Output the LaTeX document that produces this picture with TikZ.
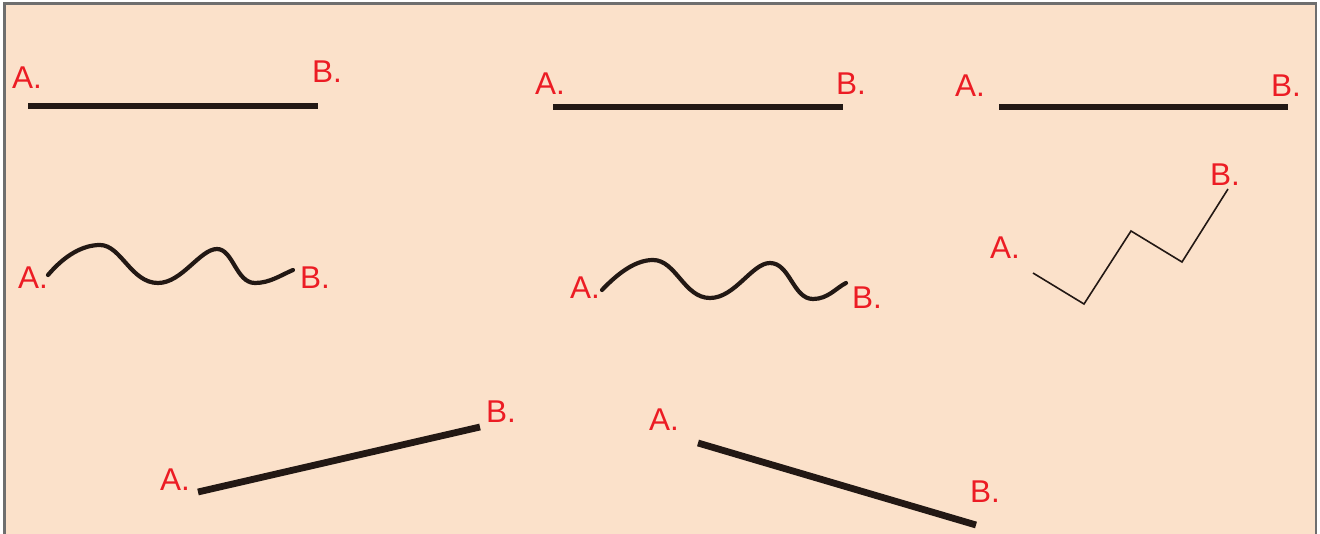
\documentclass[tikz,border=0pt]{standalone}
\usepackage{fontspec}
\setmainfont{Liberation Sans}
\definecolor{bgpeach}{HTML}{FBE1CA}
\definecolor{framegray}{HTML}{6E6E6E}
\definecolor{inkdark}{HTML}{221814}
\definecolor{labelred}{HTML}{EC1C24}
\begin{document}
\begin{tikzpicture}[x=1pt,y=-1pt,
  lbl/.style={anchor=base west,inner sep=0pt,text=labelred,font=\fontsize{31.5}{31.5}\selectfont},
  thickline/.style={draw=inkdark,line width=6.8pt},
  waveline/.style={draw=inkdark,line width=4.2pt,line cap=round},
  thinline/.style={draw=inkdark,line width=1.6pt,line join=miter}]
\useasboundingbox (0,0) rectangle (1320,534);
\fill[white] (0,0) rectangle (1320,534);
\begin{scope}
\clip (0,0) rectangle (1320,534);
\draw[framegray,line width=2.6pt,fill=bgpeach] (4.5,3.5) rectangle (1316,545);
\end{scope}
% row 1 straight lines
\coordinate (a1) at (28,106); \coordinate (b1) at (318,106);
\coordinate (a2) at (553,107); \coordinate (b2) at (843,107);
\coordinate (a3) at (999,107); \coordinate (b3) at (1288,107);
\draw[thickline] (a1) -- (b1);
\draw[thickline] (a2) -- (b2);
\draw[thickline] (a3) -- (b3);
\node[lbl] (la1) at (12,89) {A.};
\node[lbl] (lb1) at (312,83) {B.};
\node[lbl] (la2) at (535,95) {A.};
\node[lbl] (lb2) at (836,95) {B.};
\node[lbl] (la3) at (955,97) {A.};
\node[lbl] (lb3) at (1271,97) {B.};
% waves
\coordinate (a4) at (48,275); \coordinate (b4) at (293,270);
\draw[waveline] (a4) .. controls (65,255) and (83,245) .. (100,245)
  .. controls (121,245) and (131,283) .. (158,283)
  .. controls (182,283) and (200,249) .. (217,249)
  .. controls (233,249) and (236,283) .. (255,283)
  .. controls (270,283) and (281,275) .. (b4);
\node[lbl] (la4) at (18,289) {A.};
\node[lbl] (lb4) at (300,289) {B.};
\coordinate (a5) at (602,290); \coordinate (b5) at (846,283);
\draw[waveline] (a5) .. controls (620,271) and (637,260) .. (653,260)
  .. controls (676,260) and (684,298) .. (710,298)
  .. controls (735,298) and (752,263) .. (770,263)
  .. controls (790,263) and (793,299) .. (813,299)
  .. controls (828,299) and (836,288) .. (b5);
\node[lbl] (la5) at (570,299) {A.};
\node[lbl] (lb5) at (852,309) {B.};
% zigzag
\coordinate (a6) at (1033,273); \coordinate (b6) at (1228,189);
\draw[thinline] (a6) -- (1084,304) -- (1131,231) -- (1182,262) -- (b6);
\node[lbl] (la6) at (990,259) {A.};
\node[lbl] (lb6) at (1210,186) {B.};
% slanted lines
\coordinate (a7) at (198,492); \coordinate (b7) at (480,427);
\coordinate (a8) at (698,443); \coordinate (b8) at (976,525);
\draw[thickline] (a7) -- (b7);
\draw[thickline] (a8) -- (b8);
\node[lbl] (la7) at (160,490) {A.};
\node[lbl] (lb7) at (486,422) {B.};
\node[lbl] (la8) at (649,431) {A.};
\node[lbl] (lb8) at (970,502) {B.};
\end{tikzpicture}
\end{document}
